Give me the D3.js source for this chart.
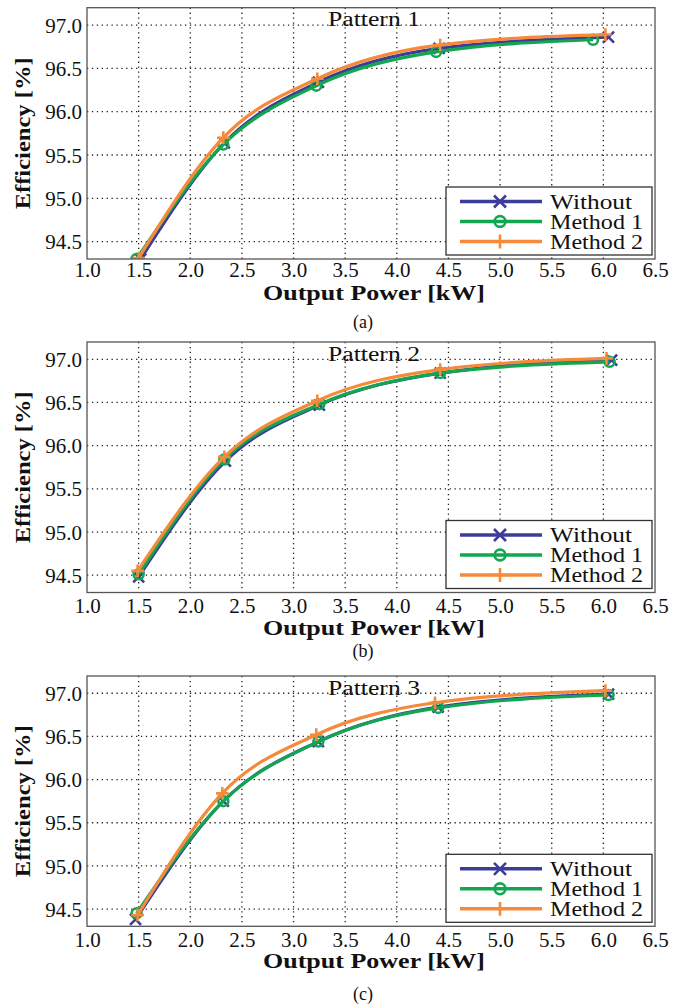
<!DOCTYPE html>
<html><head><meta charset="utf-8">
<script src="https://cdn.jsdelivr.net/npm/d3@7"></script>
<style>body{margin:0;background:#fff}svg{display:block}
text{font-family:"Liberation Serif","DejaVu Serif","Times New Roman",serif !important;}</style>
</head><body>
<script>
// ---------- DATA ----------
const seriesNames = ["Without", "Method 1", "Method 2"];
const patternTitles = ["Pattern 1", "Pattern 2", "Pattern 3"];
const captions = ["(a)", "(b)", "(c)"];
const xTickValues = [1.0, 1.5, 2.0, 2.5, 3.0, 3.5, 4.0, 4.5, 5.0, 5.5, 6.0, 6.5];
const yTickValues = [94.5, 95.0, 95.5, 96.0, 96.5, 97.0];
const xDomain = [1.0, 6.5];
const yDomain = [94.3, 97.2];
const xLabel = "Output Power [kW]";
const yLabel = "Efficiency [%]";

// Pattern 1
const p1WithoutX = [1.52, 2.33, 3.24, 4.41, 6.05];
const p1WithoutY = [94.30, 95.64, 96.34, 96.73, 96.86];
const p1Method1X = [1.48, 2.32, 3.22, 4.38, 5.90];
const p1Method1Y = [94.30, 95.62, 96.30, 96.69, 96.83];
const p1Method2X = [1.50, 2.32, 3.23, 4.42, 6.02];
const p1Method2Y = [94.31, 95.70, 96.38, 96.77, 96.89];
// Pattern 2
const p2WithoutX = [1.50, 2.34, 3.25, 4.42, 6.08];
const p2WithoutY = [94.48, 95.82, 96.47, 96.84, 96.99];
const p2Method1X = [1.50, 2.33, 3.25, 4.42, 6.06];
const p2Method1Y = [94.51, 95.84, 96.48, 96.84, 96.97];
const p2Method2X = [1.49, 2.33, 3.23, 4.42, 6.03];
const p2Method2Y = [94.55, 95.87, 96.52, 96.88, 97.01];
// Pattern 3
const p3WithoutX = [1.47, 2.32, 3.24, 4.40, 6.05];
const p3WithoutY = [94.38, 95.75, 96.44, 96.84, 96.99];
const p3Method1X = [1.48, 2.32, 3.24, 4.40, 6.05];
const p3Method1Y = [94.45, 95.75, 96.44, 96.83, 96.98];
const p3Method2X = [1.49, 2.31, 3.22, 4.37, 6.02];
const p3Method2Y = [94.43, 95.84, 96.52, 96.89, 97.03];

const patterns = [
  [[p1WithoutX, p1WithoutY], [p1Method1X, p1Method1Y], [p1Method2X, p1Method2Y]],
  [[p2WithoutX, p2WithoutY], [p2Method1X, p2Method1Y], [p2Method2X, p2Method2Y]],
  [[p3WithoutX, p3WithoutY], [p3Method1X, p3Method1Y], [p3Method2X, p3Method2Y]]
];

// ---------- STYLE / LAYOUT ----------
const colors = ["#3c3d98", "#13a650", "#f68a3b"];
const markers = ["x", "o", "+"];
const W = 681, H = 1006;
const plotLeft = 87, plotRight = 655;
const layout = [
  {top: 7.7, bottom: 259, tickBase: 277, labelBase: 300, capBase: 328},
  {top: 342, bottom: 592.5, tickBase: 613, labelBase: 635, capBase: 657},
  {top: 676, bottom: 926.3, tickBase: 947, labelBase: 968, capBase: 1000}
];
const serif = "Liberation Serif";

const svg = d3.select("body").append("svg").attr("width", W).attr("height", H);

function drawMarker(g, type, cx, cy, color, s) {
  if (type === "x") {
    g.append("path").attr("d", `M${cx - s},${cy - s}L${cx + s},${cy + s}M${cx - s},${cy + s}L${cx + s},${cy - s}`)
      .attr("stroke", color).attr("stroke-width", 2.6).attr("fill", "none");
  } else if (type === "o") {
    g.append("circle").attr("cx", cx).attr("cy", cy).attr("r", s * 0.9)
      .attr("stroke", color).attr("stroke-width", 2.6).attr("fill", "none");
  } else {
    const t = s * 1.15;
    g.append("path").attr("d", `M${cx - t},${cy}L${cx + t},${cy}M${cx},${cy - t}L${cx},${cy + t}`)
      .attr("stroke", color).attr("stroke-width", 2.6).attr("fill", "none");
  }
}

function txt(sel) {
  return sel.style("font-family", "'Liberation Serif','DejaVu Serif',serif").attr("fill", "#111");
}

layout.forEach((L, pi) => {
  const x = d3.scaleLinear().domain(xDomain).range([plotLeft, plotRight]);
  const y = d3.scaleLinear().domain(yDomain).range([L.bottom, L.top]);
  const g = svg.append("g");

  g.append("rect").attr("x", plotLeft).attr("y", L.top)
    .attr("width", plotRight - plotLeft).attr("height", L.bottom - L.top).attr("fill", "#fff");

  // grid
  const grid = g.append("g").attr("stroke", "#222").attr("stroke-width", 1.3)
    .attr("stroke-dasharray", "1.3,3.6");
  xTickValues.slice(1, -1).forEach(v => {
    grid.append("line").attr("x1", x(v)).attr("x2", x(v)).attr("y1", L.top).attr("y2", L.bottom);
  });
  yTickValues.forEach(v => {
    grid.append("line").attr("x1", plotLeft).attr("x2", plotRight).attr("y1", y(v)).attr("y2", y(v));
  });

  // axes (labels only)
  const xAxis = d3.axisBottom(x).tickValues(xTickValues).tickFormat(d3.format(".1f")).tickSize(0).tickPadding(0);
  const xa = g.append("g").attr("transform", `translate(0,${L.tickBase})`).call(xAxis)
    .attr("font-family", null).attr("font-size", null);
  xa.select(".domain").remove();
  txt(xa.selectAll("text").attr("dy", 0).attr("y", 0).style("font-size", "21px"));

  const yAxis = d3.axisLeft(y).tickValues(yTickValues).tickFormat(d3.format(".1f")).tickSize(0).tickPadding(0);
  const ya = g.append("g").attr("transform", `translate(82,0)`).call(yAxis)
    .attr("font-family", null).attr("font-size", null);
  ya.select(".domain").remove();
  txt(ya.selectAll("text").attr("x", 0).attr("dy", "0.34em").style("font-size", "21px"));

  // clip
  const clipId = "clip" + pi;
  g.append("clipPath").attr("id", clipId).append("rect")
    .attr("x", plotLeft).attr("y", L.top).attr("width", plotRight - plotLeft).attr("height", L.bottom - L.top);

  const data = patterns[pi];
  const line = d3.line().x(d => x(d[0])).y(d => y(d[1])).curve(d3.curveMonotoneX);
  const plotG = g.append("g").attr("clip-path", `url(#${clipId})`);
  data.forEach((s, si) => {
    const pts = s[0].map((xv, i) => [xv, s[1][i]]);
    plotG.append("path").datum(pts).attr("d", line).attr("fill", "none")
      .attr("stroke", colors[si]).attr("stroke-width", 3.2).attr("stroke-linejoin", "round");
    pts.forEach(p => drawMarker(plotG, markers[si], x(p[0]), y(p[1]), colors[si], 5.5));
  });

  // border
  g.append("rect").attr("x", plotLeft).attr("y", L.top)
    .attr("width", plotRight - plotLeft).attr("height", L.bottom - L.top)
    .attr("fill", "none").attr("stroke", "#555").attr("stroke-width", 1.3);

  // pattern title
  txt(g.append("text").attr("x", 374).attr("y", L.top + 18.5).attr("text-anchor", "middle")
    .style("font-size", "20px")
    .attr("textLength", 92).attr("lengthAdjust", "spacingAndGlyphs").text(patternTitles[pi]));

  // legend
  const lgW = 206, lgH = 68;
  const lgX = plotRight - 3 - lgW, lgY = L.bottom - 4 - lgH;
  const lg = g.append("g").attr("transform", `translate(${lgX},${lgY})`);
  lg.append("rect").attr("width", lgW).attr("height", lgH).attr("fill", "#fff")
    .attr("stroke", "#333").attr("stroke-width", 1.3);
  const lens = [82, 93, 93];
  seriesNames.forEach((name, si) => {
    const cy = 14.5 + si * 20;
    lg.append("line").attr("x1", 14).attr("x2", 96).attr("y1", cy).attr("y2", cy)
      .attr("stroke", colors[si]).attr("stroke-width", 3.4);
    drawMarker(lg, markers[si], 54, cy, colors[si], 6);
    txt(lg.append("text").attr("x", 104).attr("y", cy + 7).style("font-size", "20px")
      .attr("textLength", lens[si]).attr("lengthAdjust", "spacingAndGlyphs").text(name));
  });

  // axis labels
  txt(g.append("text").attr("x", 374).attr("y", L.labelBase).attr("text-anchor", "middle")
    .style("font-weight", "bold").style("font-size", "20px")
    .attr("textLength", 222).attr("lengthAdjust", "spacingAndGlyphs").text(xLabel));
  const cyMid = (L.top + L.bottom) / 2;
  txt(g.append("text").attr("transform", `translate(30,${cyMid}) rotate(-90)`).attr("text-anchor", "middle")
    .style("font-weight", "bold").style("font-size", "20px")
    .attr("textLength", 152).attr("lengthAdjust", "spacingAndGlyphs").text(yLabel));

  // caption
  txt(g.append("text").attr("x", 363).attr("y", L.capBase).attr("text-anchor", "middle")
    .style("font-size", "18px").text(captions[pi]));
});
</script>
</body></html>
